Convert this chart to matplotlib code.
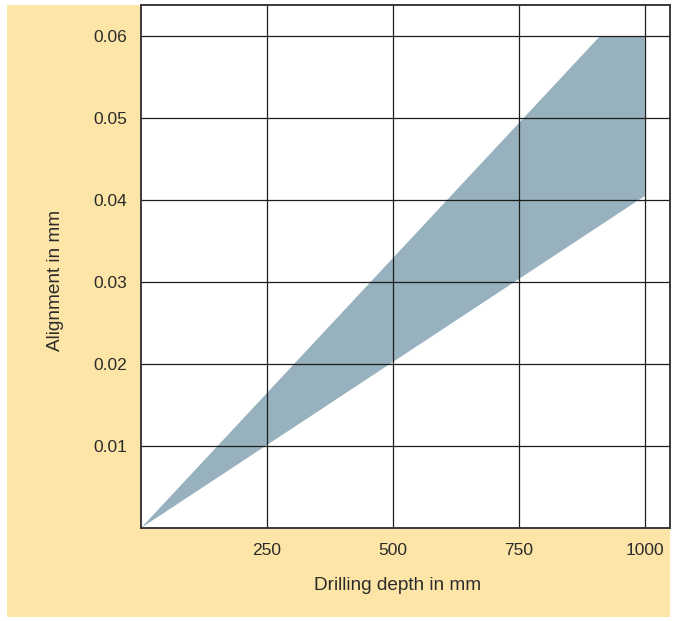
import matplotlib.pyplot as plt
from matplotlib.patches import Rectangle

plt.rcParams['font.family'] = ['Liberation Sans', 'DejaVu Sans']

# tolerance band outline (drilling depth in mm, alignment in mm)
band_depth = [0, 911, 1000, 1000]
band_align = [0, 0.06, 0.06, 0.0405]

x_ticks = [250, 500, 750, 1000]
y_ticks = [0.01, 0.02, 0.03, 0.04, 0.05, 0.06]
y_labels = ['0.01', '0.02', '0.03', '0.04', '0.05', '0.06']

text_col = '#2b2b2b'

fig = plt.figure(figsize=(6.73, 6.21), dpi=100)
fig.patch.set_facecolor('white')
fig.patches.append(Rectangle((7 / 673, 4 / 621), 663 / 673, 612 / 621,
                             transform=fig.transFigure, facecolor='#fde5a7',
                             edgecolor='none', zorder=-1))

ax = fig.add_axes([141 / 673, 93 / 621, 529 / 673, 523 / 621])
ax.set_facecolor('white')
ax.fill(band_depth, band_align, color='#97b1bf', lw=0, zorder=1)

ax.set_xlim(0, 1050)
ax.set_ylim(0, 0.0638)
ax.set_xticks(x_ticks)
ax.set_yticks(y_ticks)
ax.set_yticklabels(y_labels)
ax.grid(True, color='#1e1e1e', lw=0.9, zorder=2)
ax.set_axisbelow(False)
ax.tick_params(length=0, labelsize=12.5, colors=text_col)
ax.tick_params(axis='y', pad=10)
ax.tick_params(axis='x', pad=11)
for s in ax.spines.values():
    s.set_color('#3a3a3a')
    s.set_linewidth(1.4)
    s.set_zorder(3)

fig.text(398 / 673, 1 - 585 / 621, 'Drilling depth in mm', ha='center',
         va='center', fontsize=13.7, color=text_col)
fig.text(55 / 673, 1 - 280 / 621, 'Alignment in mm', ha='center',
         va='center', rotation=90, fontsize=13.7, color=text_col)

fig.savefig('out.png', dpi=100)
